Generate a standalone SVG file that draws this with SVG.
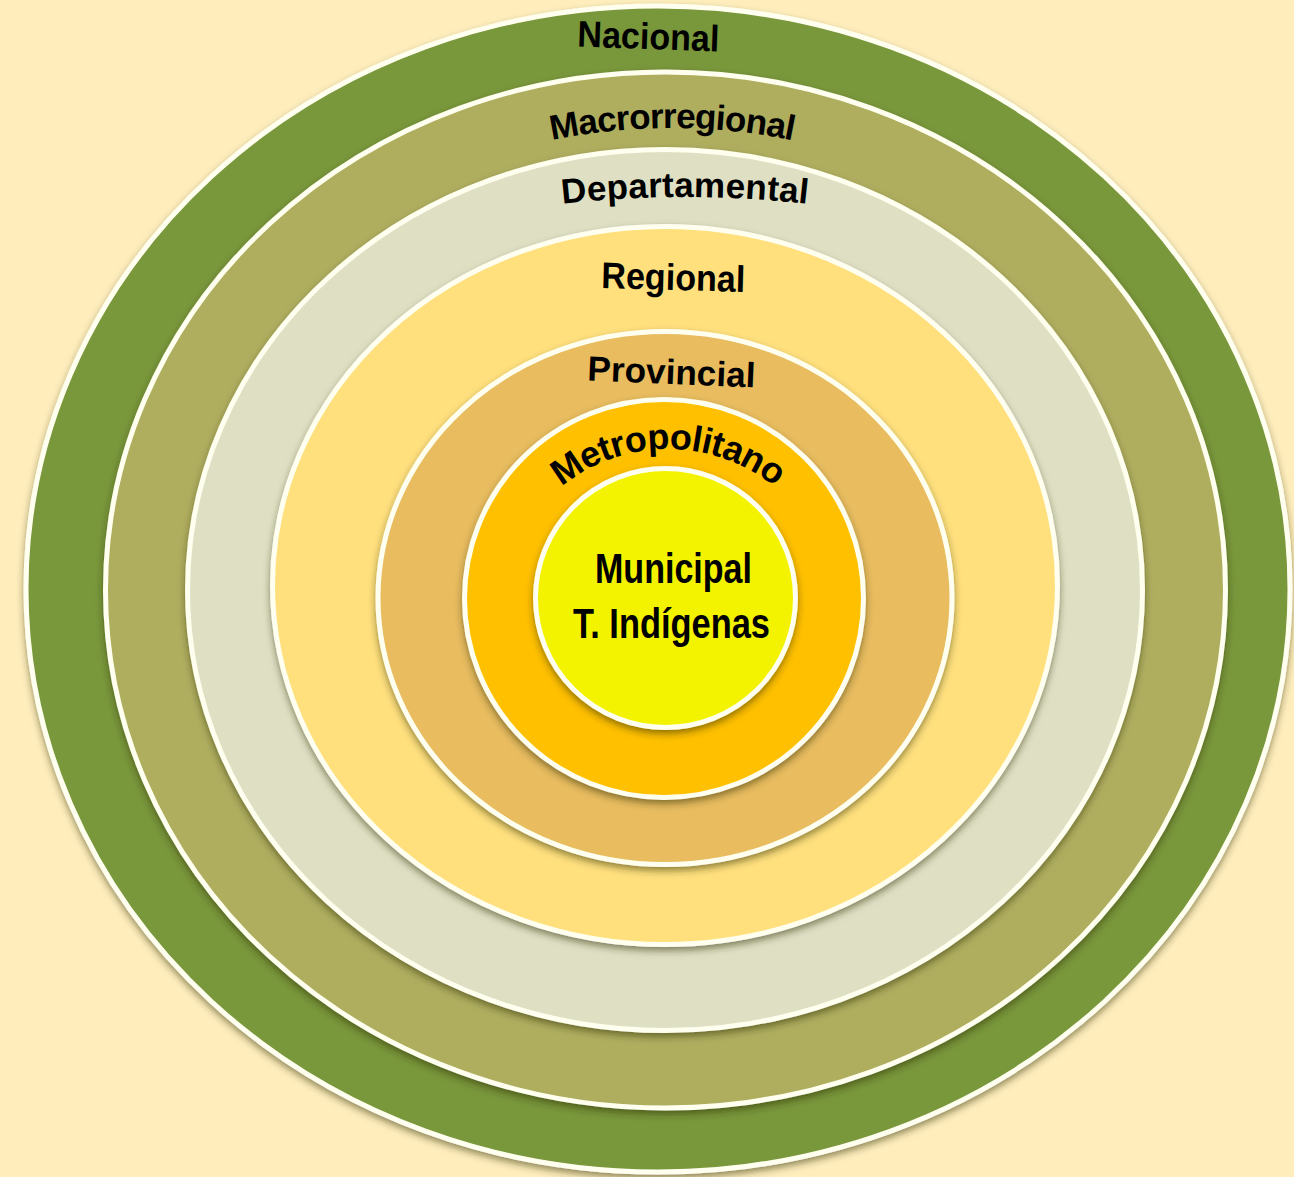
<svg xmlns="http://www.w3.org/2000/svg" width="1294" height="1177" viewBox="0 0 1294 1177">
<style>
.ring{stroke:#FFFFF0;stroke-width:5;filter:url(#sh)}
.lbl{font-family:"Liberation Sans Narrow","Liberation Sans",Arial,sans-serif;font-weight:bold;fill:#000}
.wide{font-family:"Liberation Sans",Arial,sans-serif;font-weight:bold;fill:#000}
</style>
<defs>
<filter id="sh" x="-10%" y="-10%" width="120%" height="125%">
<feDropShadow dx="0" dy="4" stdDeviation="3.5" flood-color="#2a2a05" flood-opacity="0.5"/>
</filter>
<path id="pMacro" d="M 522 147.1 A 600 600 0 0 1 822 147.1"/>
<path id="pDep" d="M 535 207.3 A 1100 1100 0 0 1 835 207.3"/>
<path id="pMet" d="M 499 618 A 169 169 0 0 1 837 618"/>
</defs>
<rect x="0" y="0" width="1294" height="1177" fill="#FFEEBC"/>
<g id="nacional">
<ellipse class="ring" cx="658" cy="589" rx="632" ry="583" fill="#79973B"/>
<text class="wide" x="648" y="49" font-size="37" text-anchor="middle" textLength="142" lengthAdjust="spacingAndGlyphs" transform="rotate(2 648 49)">Nacional</text>
</g>
<g id="macrorregional">
<ellipse class="ring" cx="665.5" cy="590" rx="560" ry="518" fill="#AFAE5E"/>
<text class="wide" font-size="35"><textPath href="#pMacro" startOffset="50%" text-anchor="middle" letter-spacing="-0.8">Macrorregional</textPath></text>
</g>
<g id="departamental">
<ellipse class="ring" cx="665" cy="590" rx="477.5" ry="440.5" fill="#DFE0C3"/>
<text class="wide" font-size="35"><textPath href="#pDep" startOffset="50%" text-anchor="middle" letter-spacing="0.2">Departamental</textPath></text>
</g>
<g id="regional">
<ellipse class="ring" cx="665" cy="585.5" rx="392.5" ry="359" fill="#FFE07D"/>
<text class="wide" x="673" y="290" font-size="37" text-anchor="middle" textLength="144" lengthAdjust="spacingAndGlyphs" transform="rotate(1.5 673 290)">Regional</text>
</g>
<g id="provincial">
<ellipse class="ring" cx="665" cy="598" rx="287" ry="266.5" fill="#E8BC5E"/>
<text class="wide" x="671" y="384" font-size="35" text-anchor="middle" textLength="168" lengthAdjust="spacingAndGlyphs" transform="rotate(2.4 671 384)">Provincial</text>
</g>
<g id="metropolitano">
<ellipse class="ring" cx="664" cy="598.5" rx="199.5" ry="199" fill="#FFC000"/>
<text class="wide" font-size="36"><textPath href="#pMet" startOffset="50%" text-anchor="middle" letter-spacing="-0.6">Metropolitano</textPath></text>
</g>
<g id="municipal">
<ellipse class="ring" cx="665.5" cy="598" rx="130" ry="129.5" fill="#F3F300"/>
<text class="lbl" x="673.5" y="583" font-size="42" text-anchor="middle" textLength="157" lengthAdjust="spacingAndGlyphs">Municipal</text>
<text class="lbl" x="671.5" y="638" font-size="42" text-anchor="middle" textLength="197" lengthAdjust="spacingAndGlyphs">T. Indígenas</text>
</g>
</svg>
